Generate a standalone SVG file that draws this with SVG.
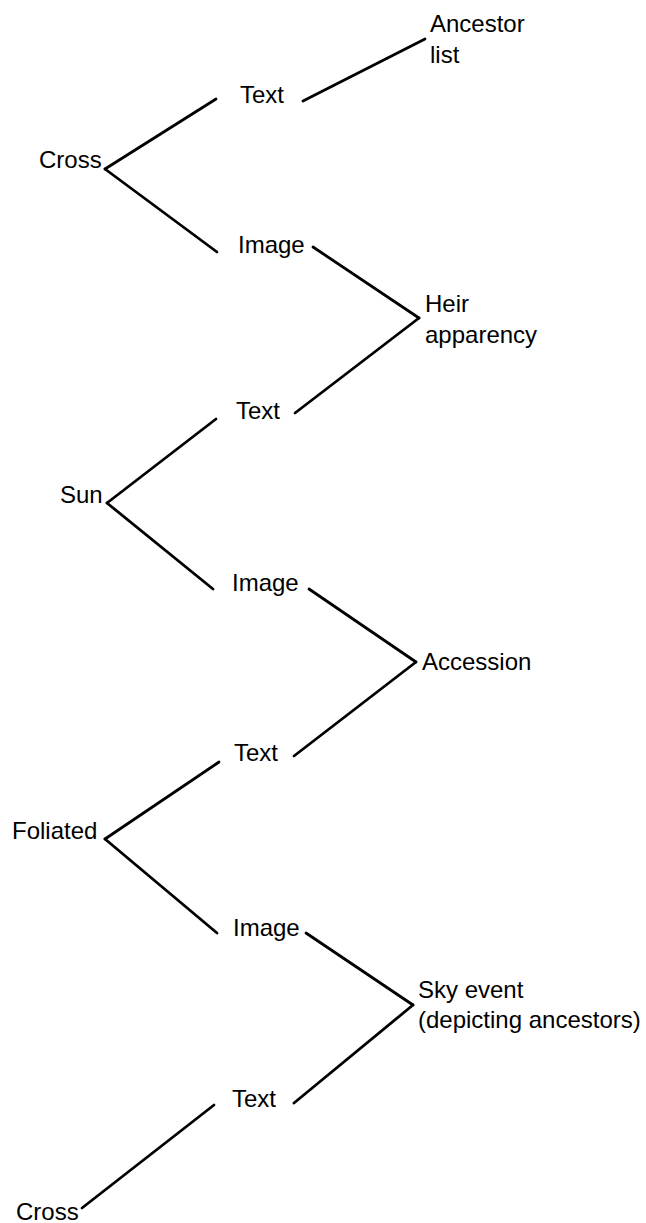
<svg xmlns="http://www.w3.org/2000/svg" width="646" height="1223" viewBox="0 0 646 1223">
<style>
.lbl{font-family:"Liberation Sans",Arial,sans-serif;font-size:24px;fill:#000}
.edge{stroke:#000;stroke-width:2.8;stroke-linecap:round;fill:none}
</style>
<rect width="646" height="1223" fill="#fff"/>
<g id="connectors">
<line class="edge" x1="105" y1="169" x2="216" y2="99"/>
<line class="edge" x1="105" y1="169" x2="217" y2="252"/>
<line class="edge" x1="303" y1="101" x2="425" y2="39"/>
<line class="edge" x1="313" y1="247" x2="419" y2="318"/>
<line class="edge" x1="419" y1="318" x2="295" y2="413"/>
<line class="edge" x1="107" y1="503" x2="216" y2="419"/>
<line class="edge" x1="107" y1="503" x2="213" y2="589"/>
<line class="edge" x1="309" y1="589" x2="416" y2="662"/>
<line class="edge" x1="416" y1="662" x2="294" y2="756"/>
<line class="edge" x1="105" y1="839" x2="219" y2="762"/>
<line class="edge" x1="105" y1="839" x2="217" y2="933"/>
<line class="edge" x1="306" y1="933" x2="413" y2="1005"/>
<line class="edge" x1="413" y1="1005" x2="294" y2="1103"/>
<line class="edge" x1="214" y1="1105" x2="82" y2="1208"/>
</g>
<g id="n-ancestor-list"><text class="lbl" x="430" y="32">Ancestor</text><text class="lbl" x="430" y="63">list</text></g>
<g id="n-text1"><text class="lbl" x="240" y="103">Text</text></g>
<g id="n-cross1"><text class="lbl" x="39" y="168">Cross</text></g>
<g id="n-image1"><text class="lbl" x="238" y="253">Image</text></g>
<g id="n-heir"><text class="lbl" x="425" y="312">Heir</text><text class="lbl" x="425" y="343">apparency</text></g>
<g id="n-text2"><text class="lbl" x="236" y="419">Text</text></g>
<g id="n-sun"><text class="lbl" x="60" y="503">Sun</text></g>
<g id="n-image2"><text class="lbl" x="232" y="591">Image</text></g>
<g id="n-accession"><text class="lbl" x="422" y="670">Accession</text></g>
<g id="n-text3"><text class="lbl" x="234" y="761">Text</text></g>
<g id="n-foliated"><text class="lbl" x="12" y="839">Foliated</text></g>
<g id="n-image3"><text class="lbl" x="233" y="936">Image</text></g>
<g id="n-sky"><text class="lbl" x="418" y="998">Sky event</text><text class="lbl" x="418" y="1028">(depicting ancestors)</text></g>
<g id="n-text4"><text class="lbl" x="232" y="1107">Text</text></g>
<g id="n-cross2"><text class="lbl" x="16" y="1220">Cross</text></g>
</svg>
